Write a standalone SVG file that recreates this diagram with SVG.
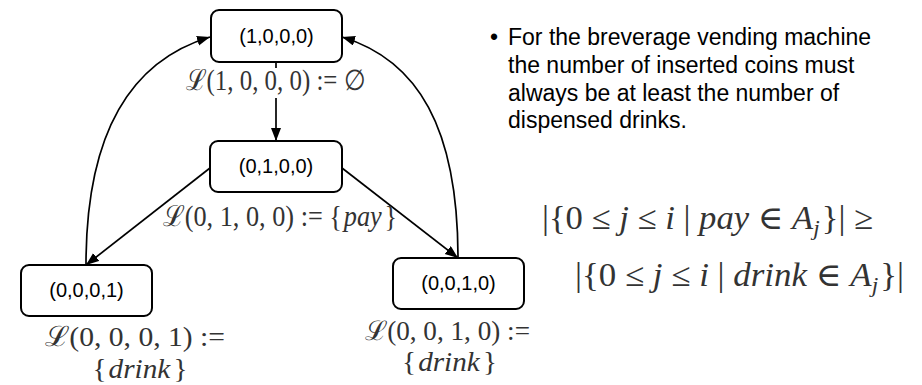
<svg xmlns="http://www.w3.org/2000/svg" width="922" height="385" viewBox="0 0 922 385">
<style>
.box{fill:#fff;stroke:#000;stroke-width:2}
.nt{font-family:"Liberation Sans",Arial,sans-serif;font-size:20px;fill:#000;text-anchor:middle}
.edge{fill:none;stroke:#000;stroke-width:1.7}
.m{font-family:"Liberation Serif","DejaVu Serif",serif;fill:#333;text-anchor:middle}
.i{font-style:italic}
.b{font-family:"Liberation Sans",Arial,sans-serif;font-size:23px;fill:#000}
</style>
<defs>
<marker id="ah" markerUnits="userSpaceOnUse" markerWidth="14" markerHeight="11" refX="13" refY="5" orient="auto">
<path d="M0,0 L13,5 L0,10 z" fill="#000"/>
</marker>
</defs>
<rect width="922" height="385" fill="#fff"/>
<g id="connectors">
<path class="edge" d="M276,62 L276,141" marker-end="url(#ah)"/>
<path class="edge" d="M210,168 L86,265" marker-end="url(#ah)"/>
<path class="edge" d="M342,168 L458,258" marker-end="url(#ah)"/>
<path class="edge" d="M86,265 C86,135 130,61 210,37" marker-end="url(#ah)"/>
<path class="edge" d="M458,258 C458,128 418,60 342,37" marker-end="url(#ah)"/>
</g>
<g id="n1000">
<rect class="box" x="211" y="10" width="131" height="52" rx="8"/>
<text class="nt" x="276.5" y="43">(1,0,0,0)</text>
<rect x="186" y="68" width="180" height="30" fill="#fff"/>
<text class="m" x="275.5" y="90" font-size="29" textLength="179" lengthAdjust="spacingAndGlyphs">ℒ(1, 0, 0, 0) := ∅</text>
</g>
<g id="n0100">
<rect class="box" x="210" y="141" width="132" height="51" rx="8"/>
<text class="nt" x="276" y="173">(0,1,0,0)</text>
<text class="m" font-size="29"><tspan x="280" y="226" textLength="234" lengthAdjust="spacingAndGlyphs">ℒ(0, 1, 0, 0) := {<tspan class="i" dx="2">pay</tspan><tspan dx="3">}</tspan></tspan></text>
</g>
<g id="n0001">
<rect class="box" x="21" y="265" width="131" height="51" rx="8"/>
<text class="nt" x="86.5" y="297">(0,0,0,1)</text>
<text class="m" font-size="28"><tspan x="135" y="346" textLength="180" lengthAdjust="spacingAndGlyphs">ℒ(0, 0, 0, 1) :=</tspan><tspan x="140" y="378" textLength="95" lengthAdjust="spacingAndGlyphs">{<tspan class="i" dx="2">drink</tspan><tspan dx="3">}</tspan></tspan></text>
</g>
<g id="n0010">
<rect class="box" x="393" y="258" width="131" height="51" rx="8"/>
<text class="nt" x="458.5" y="290">(0,0,1,0)</text>
<text class="m" font-size="27"><tspan x="447.5" y="340" textLength="165" lengthAdjust="spacingAndGlyphs">ℒ(0, 0, 1, 0) :=</tspan><tspan x="449.5" y="371" textLength="95" lengthAdjust="spacingAndGlyphs">{<tspan class="i" dx="2">drink</tspan><tspan dx="3">}</tspan></tspan></text>
</g>
<g id="bullet">
<text class="b" x="490" y="45">•</text>
<text class="b" x="508" y="45">For the breverage vending machine</text>
<text class="b" x="508" y="73">the number of inserted coins must</text>
<text class="b" x="508" y="101">always be at least the number of</text>
<text class="b" x="508" y="128">dispensed drinks.</text>
</g>
<g id="formula">
<text class="m" x="707.5" y="229" font-size="33" textLength="331" lengthAdjust="spacingAndGlyphs">|{0 ≤ <tspan class="i">j</tspan> ≤ <tspan class="i">i</tspan> | <tspan class="i">pay</tspan> ∈ <tspan class="i">A</tspan><tspan class="i" font-size="22" dy="6">j</tspan><tspan dy="-6" dx="2">}| ≥</tspan></text>
<text class="m" x="739.5" y="286" font-size="33" textLength="329" lengthAdjust="spacingAndGlyphs">|{0 ≤ <tspan class="i">j</tspan> ≤ <tspan class="i">i</tspan> | <tspan class="i">drink</tspan> ∈ <tspan class="i">A</tspan><tspan class="i" font-size="22" dy="6">j</tspan><tspan dy="-6" dx="2">}|</tspan></text>
</g>
</svg>
